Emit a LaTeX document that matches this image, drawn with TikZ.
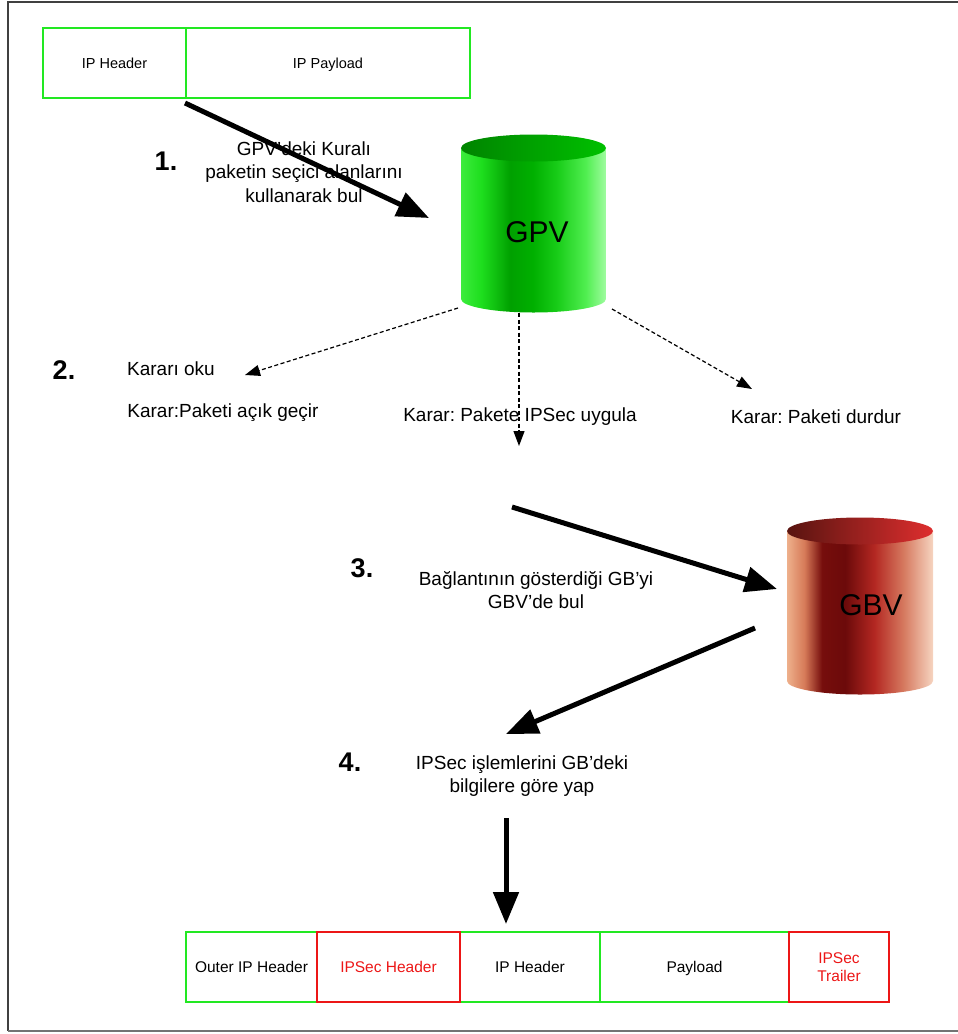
\documentclass[tikz,border=0pt]{standalone}
\usepackage{fontspec}
\setmainfont{Liberation Sans}
\usetikzlibrary{arrows.meta}

% outline colours of the packet fields
\definecolor{boxgreen}{RGB}{34,232,34}
\definecolor{boxred}{RGB}{236,22,22}

% GPV cylinder colours
\definecolor{gA}{RGB}{60,236,60}
\definecolor{gB}{RGB}{30,222,30}
\definecolor{gC}{RGB}{0,160,0}
\definecolor{gD}{RGB}{0,176,0}
\definecolor{gE}{RGB}{24,204,24}
\definecolor{gF}{RGB}{80,238,80}
\definecolor{gG}{RGB}{160,252,160}
\definecolor{gTopL}{RGB}{0,132,0}
\definecolor{gTopR}{RGB}{0,192,0}

% GBV cylinder colours
\definecolor{rA}{RGB}{238,176,140}
\definecolor{rB}{RGB}{214,122,88}
\definecolor{rC}{RGB}{118,14,12}
\definecolor{rD}{RGB}{108,10,10}
\definecolor{rE}{RGB}{180,40,34}
\definecolor{rF}{RGB}{214,122,96}
\definecolor{rG}{RGB}{246,212,192}
\definecolor{rTopL}{RGB}{88,20,16}
\definecolor{rTopR}{RGB}{222,46,46}

\pgfdeclarehorizontalshading{gpvbody}{100bp}{color(0bp)=(gA); color(25bp)=(gA);
  color(32bp)=(gB); color(42bp)=(gC); color(50bp)=(gD); color(58bp)=(gE);
  color(68bp)=(gF); color(75bp)=(gG); color(100bp)=(gG)}
\pgfdeclarehorizontalshading{gbvbody}{100bp}{color(0bp)=(rA); color(25bp)=(rA);
  color(31bp)=(rB); color(37bp)=(rC); color(45bp)=(rD); color(55bp)=(rE);
  color(65bp)=(rF); color(75bp)=(rG); color(100bp)=(rG)}

% invisible struts that centre capitals in the packet fields
\newcommand\pktstrut{\rule[-3.8pt]{0pt}{18.7pt}}
\newcommand\toppktstrut{\rule[-3.5pt]{0pt}{17.4pt}}

\tikzset{
  pkt/.style={draw=boxgreen, line width=2pt, minimum height=70pt, inner sep=0pt,
    font=\fontsize{15.5}{18}\selectfont, align=center},
  pkttop/.style={pkt, font=\fontsize{14.5}{17}\selectfont},
  pktred/.style={pkt, draw=boxred, text=boxred},
  label/.style={font=\fontsize{19}{23.5}\selectfont, align=center, inner sep=0pt},
  stepnum/.style={font=\fontsize{27}{30}\selectfont\bfseries, inner sep=0pt},
  dbname/.style={font=\fontsize{30}{34}\selectfont, inner sep=0pt},
  bigarrow/.style={line width=5pt, -{Triangle[length=32pt,width=25pt]}},
  decarrow/.style={line width=1.2pt, dash pattern=on 4pt off 2.5pt,
    -{Triangle[length=15pt,width=11pt]}},
}

\begin{document}
\frenchspacing
\begin{tikzpicture}[x=1pt,y=1pt]
\useasboundingbox (0,0) rectangle (958,-1034);

% outer frame (left, top and bottom edges)
\draw[line width=1.5pt, black!75] (958,-2) -- (8,-2) -- (8,-1031);
\draw[line width=2pt, black!55] (8,-1031) -- (958,-1031);

% original packet
\node[pkttop, minimum width=143pt] (iph) at (114.5,-63) {IP Header\toppktstrut};
\node[pkttop, minimum width=284pt] (ipp) at (328,-63) {IP Payload\toppktstrut};

% GPV database
\shade[shading=gpvbody] (461,-148) -- (461,-299)
  arc[start angle=180, end angle=360, x radius=72.5, y radius=13.5]
  -- (606,-148) -- cycle;
\shade[left color=gTopL, right color=gTopR] (533.5,-148) ellipse[x radius=72.5, y radius=13.5];
\node[dbname] (gpv) at (537,-232) {GPV};

% GBV database
\shade[shading=gbvbody] (787,-531) -- (787,-681)
  arc[start angle=180, end angle=360, x radius=73, y radius=13.5]
  -- (933,-531) -- cycle;
\shade[left color=rTopL, right color=rTopR] (860,-531) ellipse[x radius=73, y radius=13.5];
\node[dbname] (gbv) at (871,-605) {GBV};

% step 1
\node[stepnum] (n1) at (166,-161) {1.};
\node[label] (t1) at (304,-172) {GPV’deki Kuralı\\paketin seçici alanlarını\\kullanarak bul};
\coordinate (a1s) at (185,-103);
\coordinate (a1e) at (429,-218);
\draw[bigarrow] (a1s) -- (a1e);

% step 2
\node[stepnum] (n2) at (64,-370) {2.};
\node[label] (t2) at (171,-369) {Kararı oku};
\node[label] (d1) at (223,-413) {Karar:Paketi açık geçir};
\node[label] (d2) at (520,-417) {Karar: Pakete IPSec uygula};
\node[label] (d3) at (816,-417) {Karar: Paketi durdur};
\coordinate (l1s) at (458,-308);
\coordinate (l1e) at (245,-375);
\coordinate (l2s) at (519,-313);
\coordinate (l2e) at (519,-446);
\coordinate (l3s) at (612,-309);
\coordinate (l3e) at (752,-389);
\draw[decarrow] (l1s) -- (l1e);
\draw[decarrow] (l2s) -- (l2e);
\draw[decarrow] (l3s) -- (l3e);

% step 3
\node[stepnum] (n3) at (362,-568) {3.};
\node[label] (t3) at (536,-590) {Bağlantının gösterdiği GB’yi\\GBV’de bul};
\coordinate (a3s) at (512,-507);
\coordinate (a3e) at (777,-589);
\draw[bigarrow] (a3s) -- (a3e);

% step 4
\node[stepnum] (n4) at (350,-762) {4.};
\node[label] (t4) at (522,-776) {IPSec işlemlerini GB’deki\\bilgilere göre yap};
\coordinate (a4s) at (755,-628);
\coordinate (a4e) at (506,-734);
\draw[bigarrow] (a4s) -- (a4e);

% resulting packet
\coordinate (a5s) at (506,-818);
\node[pkt, minimum width=131pt] (outer) at (251.5,-967) {Outer IP Header\pktstrut};
\node[pkt, minimum width=140pt] (inner) at (530,-967) {IP Header\pktstrut};
\node[pkt, minimum width=189pt] (pay) at (694.5,-967) {Payload\pktstrut};
\node[pktred, minimum width=143pt] (esph) at (388.5,-967) {IPSec Header\pktstrut};
\node[pktred, minimum width=100pt] (espt) at (839,-967) {IPSec\\Trailer};
\draw[bigarrow] (a5s) -- (a5s |- 0,-924);
\end{tikzpicture}
\end{document}
